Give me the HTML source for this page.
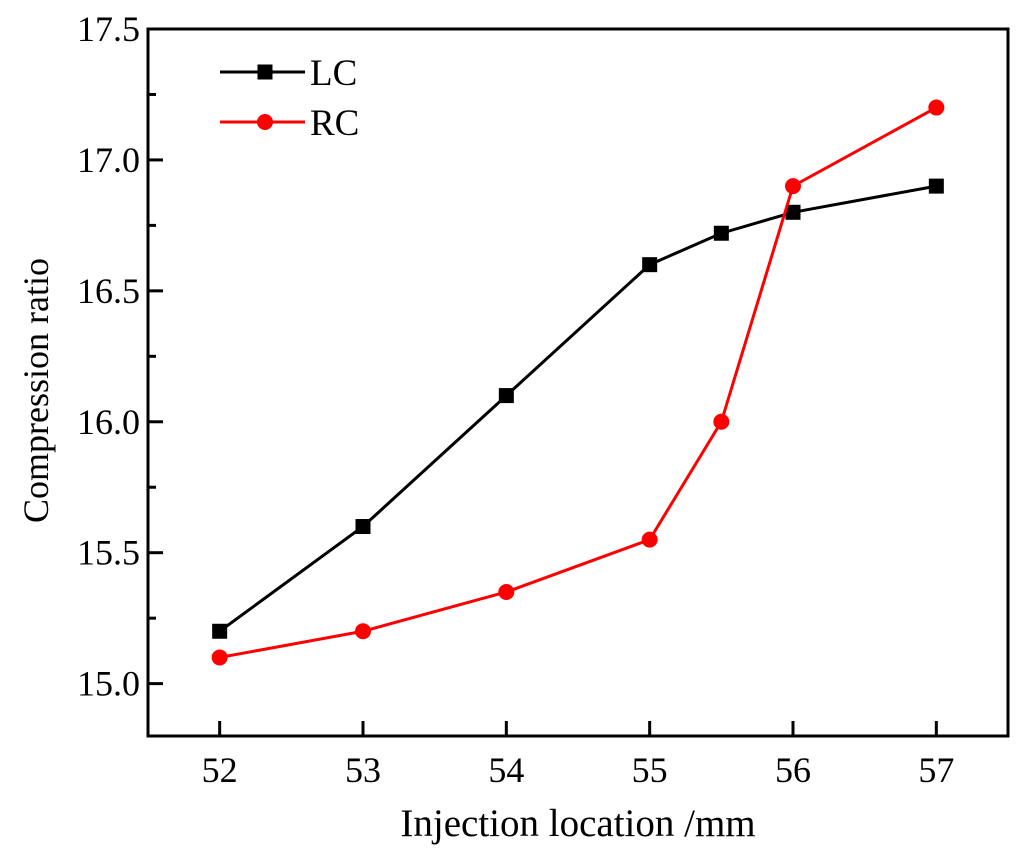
<!DOCTYPE html>
<html><head><meta charset="utf-8"><style>
html,body{margin:0;padding:0;background:#fff;}
svg{display:block;font-family:"Liberation Serif",serif;}
</style></head><body>
<svg id="chart" width="1024" height="858"></svg>
<script>
const xValues=[52,53,54,55,55.5,56,57];
const lcValues=[15.2,15.6,16.1,16.6,16.72,16.8,16.9];
const rcValues=[15.1,15.2,15.35,15.55,16.0,16.9,17.2];
const xTicks=[52,53,54,55,56,57];
const yTicks=[15.0,15.5,16.0,16.5,17.0,17.5];
const yMinorTicks=[15.25,15.75,16.25,16.75,17.25];

const L=148,R=1008,T=29,B=736;
const X=v=>L+(v-51.5)/(57.5-51.5)*(R-L);
const Y=v=>B-(v-14.8)/(17.5-14.8)*(B-T);
const svg=document.getElementById('chart');
const NS='http://www.w3.org/2000/svg';
function mk(tag,attrs,parent){const e=document.createElementNS(NS,tag);for(const k in attrs)e.setAttribute(k,attrs[k]);(parent||svg).appendChild(e);return e;}

const frame=mk('rect',{x:L,y:T,width:R-L,height:B-T,fill:'none',stroke:'#000','stroke-width':3});



xTicks.forEach(v=>{
  const t=mk('line',{x1:X(v),x2:X(v),y1:B,y2:B-15,stroke:'#000','stroke-width':3});
  
  
  const l=mk('text',{x:X(v),y:B+46,'text-anchor':'middle','font-size':36});
  l.textContent=v;
  
  
});
yTicks.forEach(v=>{
  const t=mk('line',{x1:L,x2:L+15,y1:Y(v),y2:Y(v),stroke:'#000','stroke-width':3});
  
  
  const l=mk('text',{x:L-8,y:Y(v)+12,'text-anchor':'end','font-size':36});
  l.textContent=v.toFixed(1);
  
  
});
yMinorTicks.forEach(v=>{
  const t=mk('line',{x1:L,x2:L+8,y1:Y(v),y2:Y(v),stroke:'#000','stroke-width':3});
  
  
});

const xt=mk('text',{x:(L+R)/2,y:836,'text-anchor':'middle','font-size':39});
xt.textContent='Injection location /mm';


const yt=mk('text',{x:0,y:0,'text-anchor':'middle','font-size':36,transform:'translate(48,'+((T+B)/2+8)+') rotate(-90)'});
yt.textContent='Compression ratio';



function series(vals,color,shape,name){
  const g=mk('g',{});
  
  
  const p=mk('polyline',{points:vals.map((v,i)=>X(xValues[i])+','+Y(v)).join(' '),fill:'none',stroke:color,'stroke-width':3},g);
  
  
  vals.forEach((v,i)=>{
    let m;
    if(shape==='square')m=mk('rect',{x:X(xValues[i])-7.5,y:Y(v)-7.5,width:15,height:15,fill:color},g);
    else m=mk('circle',{cx:X(xValues[i]),cy:Y(v),r:8,fill:color},g);
    
    
  });
}
series(lcValues,'#000','square','lc');
series(rcValues,'#f00','circle','rc');

function legend(y,color,shape,label,name){
  const g=mk('g',{});
  
  
  mk('line',{x1:220,x2:305,y1:y,y2:y,stroke:color,'stroke-width':3},g);
  if(shape==='square')mk('rect',{x:257.5,y:y-7.5,width:15,height:15,fill:color},g);
  else mk('circle',{cx:265,cy:y,r:8,fill:color},g);
  const t=mk('text',{x:310,y:y+13,'font-size':37},g);
  t.textContent=label;
}
legend(72,'#000','square','LC','lc');
legend(122,'#f00','circle','RC','rc');
</script>
</body></html>
